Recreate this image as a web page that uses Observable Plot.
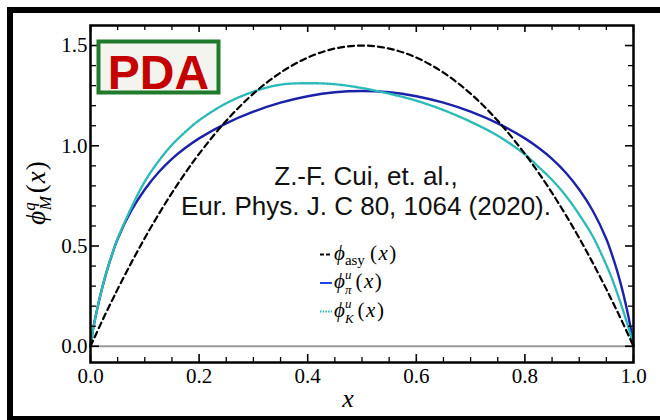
<!DOCTYPE html>
<html><head><meta charset="utf-8">
<script src="https://cdn.jsdelivr.net/npm/d3@7"></script>
<script src="https://cdn.jsdelivr.net/npm/@observablehq/plot@0.6"></script>
<style>
html,body{margin:0;padding:0;background:#fff;overflow:hidden;}
#wrap{position:relative;width:660px;height:420px;overflow:hidden;background:#fff;}
#border{position:absolute;left:7px;top:7px;width:720px;height:415px;border:6px solid #000;box-sizing:border-box;pointer-events:none;}
#chart svg{display:block;}
</style></head><body>
<div id="wrap"><div id="chart"></div><div id="border"></div></div>
<script>
// ---- data ----
const xGrid      = [0, 0.005, 0.01, 0.02, 0.03, 0.04, 0.05, 0.075, 0.1, 0.125, 0.15, 0.175, 0.2, 0.25, 0.3, 0.35, 0.4, 0.45, 0.5,
                    0.55, 0.6, 0.65, 0.7, 0.75, 0.8, 0.825, 0.85, 0.875, 0.9, 0.925, 0.95, 0.96, 0.97, 0.98, 0.99, 0.995, 1];
const asyValues  = [0, 0.030, 0.059, 0.118, 0.175, 0.230, 0.285, 0.416, 0.540, 0.656, 0.765, 0.866, 0.960, 1.125, 1.260, 1.365, 1.440, 1.485, 1.500,
                    1.485, 1.440, 1.365, 1.260, 1.125, 0.960, 0.866, 0.765, 0.656, 0.540, 0.416, 0.285, 0.230, 0.175, 0.118, 0.059, 0.030, 0];
const pionValues = [0, 0.088, 0.157, 0.275, 0.375, 0.460, 0.535, 0.676, 0.782, 0.867, 0.935, 0.990, 1.037, 1.112, 1.170, 1.215, 1.247, 1.267, 1.273,
                    1.267, 1.247, 1.215, 1.170, 1.112, 1.037, 0.990, 0.935, 0.867, 0.782, 0.676, 0.535, 0.460, 0.375, 0.275, 0.157, 0.088, 0];
const kaonValues = [0, 0.088, 0.157, 0.275, 0.375, 0.460, 0.537, 0.690, 0.822, 0.922, 1.005, 1.070, 1.127, 1.212, 1.270, 1.305, 1.312, 1.307, 1.288,
                    1.260, 1.225, 1.178, 1.120, 1.050, 0.957, 0.895, 0.830, 0.752, 0.657, 0.548, 0.405, 0.340, 0.265, 0.185, 0.100, 0.055, 0];
const xMajorTicks = [0, 0.2, 0.4, 0.6, 0.8, 1.0];
const xMinorTicks = [0.05, 0.1, 0.15, 0.25, 0.3, 0.35, 0.45, 0.5, 0.55, 0.65, 0.7, 0.75, 0.85, 0.9, 0.95];
const yMajorTicks = [0, 0.5, 1.0, 1.5];
const yMinorTicks = [0.1, 0.2, 0.3, 0.4, 0.6, 0.7, 0.8, 0.9, 1.1, 1.2, 1.3, 1.4];
const annotationLines = ["Z.-F. Cui, et. al.,", "Eur. Phys. J. C 80, 1064 (2020)."];
const badgeText = "PDA";

// ---- layout ----
const W = 660, H = 420, ML = 90, MR = 27, MT = 25, MB = 58;
const innerW = W - ML - MR, innerH = H - MT - MB;
const C_ASY = "#000000", C_PI = "#1b22a8", C_K = "#2cbab6";
const rows = vals => xGrid.map((x, i) => ({x, y: vals[i]}));
const fmt = d3.format(".1f");

const plot = Plot.plot({
  width: W, height: H,
  marginLeft: ML, marginRight: MR, marginTop: MT, marginBottom: MB,
  x: {domain: [0, 1]},
  y: {domain: [-0.081, 1.6]},
  style: {background: "transparent", fontFamily: "'Liberation Serif', serif", color: "#000"},
  marks: [
    Plot.ruleY([0], {stroke: "#9a9a9a", strokeWidth: 2}),
    Plot.line(rows(pionValues), {x: "x", y: "y", stroke: C_PI, strokeWidth: 2.4, curve: "catmull-rom"}),
    Plot.line(rows(kaonValues), {x: "x", y: "y", stroke: C_K, strokeWidth: 2.4, strokeDasharray: "2 1.5", curve: "catmull-rom"}),
    Plot.line(rows(asyValues), {x: "x", y: "y", stroke: C_ASY, strokeWidth: 2.2, strokeDasharray: "6 4", curve: "catmull-rom"}),
    // inward ticks
    Plot.ruleX(xMajorTicks, {x: d => d, insetTop: innerH - 8, stroke: "#000", strokeWidth: 1.6}),
    Plot.ruleX(xMajorTicks, {x: d => d, insetBottom: innerH - 7, stroke: "#000", strokeWidth: 1.6}),
    Plot.ruleX(xMinorTicks, {x: d => d, insetTop: innerH - 5, stroke: "#000", strokeWidth: 1.3}),
    Plot.ruleX(xMinorTicks, {x: d => d, insetBottom: innerH - 5, stroke: "#000", strokeWidth: 1.3}),
    Plot.ruleY(yMajorTicks, {y: d => d, insetRight: innerW - 9, stroke: "#000", strokeWidth: 1.6}),
    Plot.ruleY(yMajorTicks, {y: d => d, insetLeft: innerW - 8, stroke: "#000", strokeWidth: 1.6}),
    Plot.ruleY(yMinorTicks, {y: d => d, insetRight: innerW - 6, stroke: "#000", strokeWidth: 1.3}),
    Plot.ruleY(yMinorTicks, {y: d => d, insetLeft: innerW - 5, stroke: "#000", strokeWidth: 1.3}),
    Plot.frame({stroke: "#000", strokeWidth: 2.5}),
    Plot.axisX(xMajorTicks, {tickSize: 0, tickPadding: 6, tickFormat: fmt, fontSize: 21, label: null, fill: "#000"}),
    Plot.axisY(yMajorTicks, {tickSize: 0, tickPadding: 3, tickFormat: fmt, fontSize: 21, label: null, fill: "#000"})
  ]
});
document.getElementById("chart").appendChild(plot);

// ---- decorations (text, badge, legend) ----
const svg = d3.select(plot);
const SERIF = "'Liberation Serif', 'DejaVu Serif', serif";
const SANS = "'Liberation Sans', Arial, sans-serif";
const PHI = "\u03D5";

// PDA badge
const badge = svg.append("g");
badge.append("rect").attr("x", 98.5).attr("y", 41.5).attr("width", 120).attr("height", 51)
  .attr("fill", "#f3f4ee").attr("stroke", "#1f7a2c").attr("stroke-width", 4);
badge.append("text").attr("x", 158.5).attr("y", 89).attr("text-anchor", "middle")
  .attr("font-family", SANS).attr("font-weight", "bold").attr("font-size", 48).attr("fill", "#c40000")
  .text(badgeText);

// citation
annotationLines.forEach((t, i) => {
  svg.append("text").attr("x", 366).attr("y", 185 + i * 30).attr("text-anchor", "middle")
    .attr("font-family", SANS).attr("font-size", 26).attr("fill", "#111").text(t);
});

// axis labels
svg.append("text").attr("x", 348).attr("y", 407).attr("text-anchor", "middle")
  .attr("font-family", SERIF).attr("font-style", "italic").attr("font-size", 26).attr("fill", "#000").text("x");

const yl = svg.append("text").attr("transform", "translate(45,193) rotate(-90)").attr("text-anchor", "middle")
  .attr("font-family", SERIF).attr("font-size", 27).attr("fill", "#000");
yl.append("tspan").attr("font-style", "italic").text(PHI);
yl.append("tspan").attr("font-style", "italic").attr("font-size", 17).attr("dy", -10).text("q");
yl.append("tspan").attr("font-style", "italic").attr("font-size", 17).attr("dx", -8).attr("dy", 16).text("M");
yl.append("tspan").attr("dy", -6).attr("dx", 3).text("(");
yl.append("tspan").attr("font-style", "italic").attr("dx", 1).text("x");
yl.append("tspan").attr("dx", 1).text(")");

// legend
const legendRows = [
  {base: 259.5, color: C_ASY, dash: "4 2", sup: null, sub: "asy"},
  {base: 288, color: "#2146e6", dash: null, sup: "u", sub: "π"},
  {base: 316.5, color: C_K, dash: "1.5 1.2", sup: "u", sub: "K"}
];
legendRows.forEach(r => {
  svg.append("line").attr("x1", 320).attr("x2", 332).attr("y1", r.base - 5).attr("y2", r.base - 5)
    .attr("stroke", r.color).attr("stroke-width", 2).attr("stroke-dasharray", r.dash);
  const t = svg.append("text").attr("x", 334).attr("y", r.base).attr("text-anchor", "start")
    .attr("font-family", SERIF).attr("font-size", 21).attr("fill", "#000");
  t.append("tspan").attr("font-style", "italic").text(PHI);
  if (r.sup) {
    t.append("tspan").attr("font-style", "italic").attr("font-size", 13).attr("dy", -9).text(r.sup);
    t.append("tspan").attr("font-style", "italic").attr("font-size", 13).attr("dx", -6.5).attr("dy", 15).text(r.sub);
    t.append("tspan").attr("dy", -6).attr("dx", 4).text("(");
  } else {
    t.append("tspan").attr("font-size", 15).attr("dy", 5).text(r.sub);
    t.append("tspan").attr("dy", -5).attr("dx", 5).text("(");
  }
  t.append("tspan").attr("font-style", "italic").attr("dx", 1.5).text("x");
  t.append("tspan").attr("dx", 1.5).text(")");
});
</script>
</body></html>
